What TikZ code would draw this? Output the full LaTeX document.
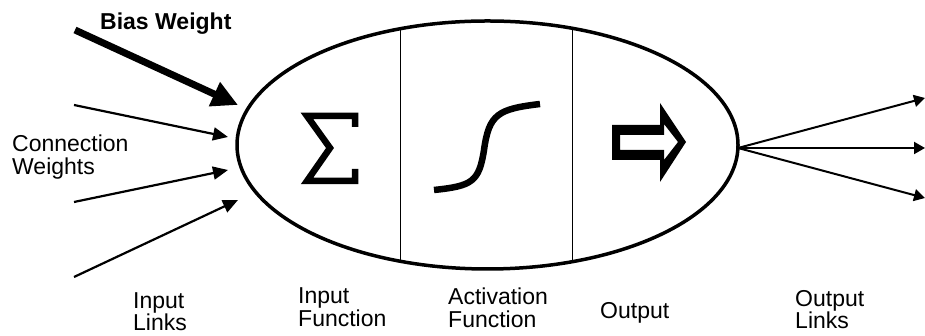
\documentclass[tikz,border=0pt]{standalone}
\usepackage{fontspec}
\setmainfont{Liberation Sans}
\usetikzlibrary{arrows.meta,shapes.geometric}
\begin{document}
\begin{tikzpicture}[x=1pt,y=1pt,
 l/.style={anchor=north west,inner sep=0,align=left,font=\fontsize{23}{23}\selectfont},
 a/.style={line width=2.2pt,-{Triangle[length=15pt,width=13pt]}},
 o/.style={line width=2pt,-{Triangle[length=11pt,width=12pt]}},
 g/.style={line width=6.5pt,miter limit=20}]
\useasboundingbox (0,0) rectangle (925,336);
% neuron body
\node[draw,ellipse,line width=3.5pt,minimum width=501pt,minimum height=248pt,inner sep=0] (n) at (487.5,191) {};
\draw[line width=1.5pt] (400.7,307.5) -- (400.7,74.5);
\draw[line width=1.5pt] (572.7,307.3) -- (572.7,74.7);
% symbols
\draw[g] (355,209) -- (355,220) -- (307,220) -- (330,188) -- (307,155) -- (355,155) -- (355,167);
\draw[g] (434,146) .. controls (472,150) and (479,154) .. (484,186) .. controls (489,222) and (498,227) .. (540,232);
\fill[even odd rule] (612,211) -- (660,211) -- (660,233) -- (686,194) -- (660,154) -- (660,176) -- (612,176) -- cycle
 (620,201) -- (664,201) -- (664,212) -- (678,194) -- (664,176) -- (664,186) -- (620,186) -- cycle;
% inputs
\coordinate (b0) at (75,306); \coordinate (b1) at (238,231);
\coordinate (i0) at (74,231); \coordinate (i1) at (228,199);
\coordinate (j0) at (74,134); \coordinate (j1) at (228,166);
\coordinate (k0) at (74,59); \coordinate (k1) at (238,136);
\draw[line width=7pt,-{Triangle[length=26pt,width=25pt]}] (b0)--(b1);
\draw[a] (i0)--(i1);
\draw[a] (j0)--(j1);
\draw[a] (k0)--(k1);
% outputs
\coordinate (h) at (738,188);
\coordinate (p1) at (925,238); \coordinate (p2) at (925,188); \coordinate (p3) at (925,138);
\draw[o] (h)--(p1);
\draw[o] (h)--(p2);
\draw[o] (h)--(p3);
% labels
\node[l,font=\fontsize{23}{23}\selectfont\bfseries] (bw) at (100,323) {Bias Weight};
\node[l] (cw) at (12,201) {Connection\\Weights};
\node[l,font=\fontsize{23}{22}\selectfont] (il) at (133,44) {Input\\Links};
\node[l] (if) at (298,49) {Input\\Function};
\node[l] (af) at (448,48) {Activation\\Function};
\node[l] (ou) at (600,34) {Output};
\node[l,font=\fontsize{23}{22}\selectfont] (ol) at (795,46) {Output\\Links};
\end{tikzpicture}
\end{document}
